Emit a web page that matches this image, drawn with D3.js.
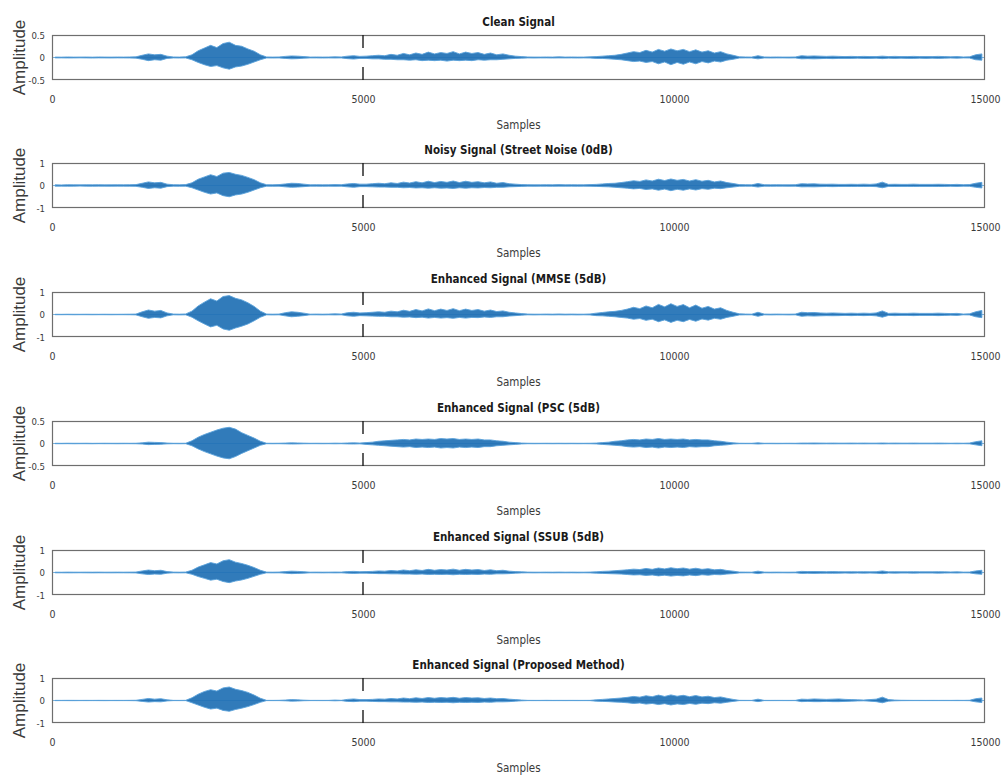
<!DOCTYPE html>
<html><head><meta charset="utf-8">
<script src="https://cdn.jsdelivr.net/npm/d3@7"></script>
<style>body{margin:0;background:#fff}</style>
</head><body><svg id="c" width="1003" height="780"></svg>
<script>
// ---------------- DATA ----------------
const titles = [
  "Clean Signal",
  "Noisy Signal (Street Noise (0dB)",
  "Enhanced Signal (MMSE (5dB)",
  "Enhanced Signal (PSC (5dB)",
  "Enhanced Signal (SSUB (5dB)",
  "Enhanced Signal (Proposed Method)"
];
const xTicks = [0, 5000, 10000, 15000];
const xTickLabels = ["0", "5000", "10000", "15000"];
const markedTicks = [5000];
const yDomains = [[-0.5,0.5],[-1,1],[-1,1],[-0.5,0.5],[-1,1],[-1,1]];
const yTicks = [[-0.5,0,0.5],[-1,0,1],[-1,0,1],[-0.5,0,0.5],[-1,0,1],[-1,0,1]];
const yTickLabels = [["-0.5","0","0.5"],["-1","0","1"],["-1","0","1"],["-0.5","0","0.5"],["-1","0","1"],["-1","0","1"]];
const xLabel = "Samples";
const yLabel = "Amplitude";
const binSize = 100; // samples per envelope value

// envelope (max / min amplitude per 100-sample bin)
const cleanUp = [
 .010,.008,.012,.009,.010,.011,.008,.012,.010,.009,.011,.010,.012,.015,
 .05,.08,.06,.07,.03,
 .012,.010,.015,
 .06,.15,.21,.27,.22,.31,.34,.27,.25,.19,.14,.06,
 .012,.010,.012,
 .025,.035,.030,.020,
 .010,.012,.010,.011,.015,.012,
 .030,.040,.025,
 .03,.04,.05,.04,.07,.05,.09,.06,.10,.07,.12,.08,.11,.09,.13,.08,.12,.09,.11,.07,.10,.06,.08,.05,.03,.02,
 .012,.010,.010,.012,.010,.015,.010,.012,.010,.010,.015,
 .02,.03,.04,.05,.07,.10,.13,.11,.16,.12,.18,.14,.19,.15,.18,.13,.17,.12,.15,.10,.13,.08,.05,
 .015,.012,.010,
 .04,
 .012,.010,.012,.010,.010,.012,
 .04,.03,.035,.03,.025,.03,.025,.02,.025,.02,.025,.02,.02,.03,.02,.025,.02,.02,.025,.02,.02,.02,.025,.02,.015,.02,
 .012,.015,
 .06,.08
];
const cleanLo = [
 -.010,-.009,-.011,-.010,-.008,-.010,-.012,-.009,-.010,-.011,-.009,-.010,-.011,-.014,
 -.04,-.07,-.05,-.06,-.02,
 -.010,-.012,-.010,
 -.05,-.11,-.16,-.20,-.18,-.23,-.26,-.21,-.19,-.15,-.10,-.05,
 -.010,-.012,-.010,
 -.020,-.030,-.025,-.015,
 -.010,-.010,-.012,-.010,-.012,-.010,
 -.025,-.035,-.020,
 -.02,-.03,-.03,-.04,-.04,-.05,-.05,-.06,-.05,-.07,-.06,-.07,-.06,-.08,-.06,-.07,-.06,-.07,-.05,-.06,-.05,-.05,-.04,-.03,-.02,-.015,
 -.010,-.012,-.010,-.010,-.012,-.010,-.011,-.010,-.012,-.010,-.012,
 -.02,-.02,-.03,-.04,-.05,-.07,-.09,-.08,-.11,-.09,-.14,-.10,-.16,-.11,-.15,-.10,-.14,-.09,-.12,-.08,-.10,-.06,-.04,
 -.012,-.010,-.010,
 -.03,
 -.010,-.012,-.010,-.010,-.012,-.010,
 -.03,-.025,-.03,-.025,-.02,-.025,-.02,-.02,-.02,-.015,-.02,-.02,-.015,-.025,-.015,-.02,-.015,-.02,-.02,-.015,-.02,-.015,-.02,-.015,-.012,-.015,
 -.010,-.012,
 -.05,-.06
];
const noisyUp = [
 .03,.025,.035,.03,.028,.032,.03,.035,.028,.03,.033,.03,.035,.04,
 .10,.16,.12,.14,.06,
 .035,.03,.04,
 .12,.28,.38,.48,.40,.55,.58,.50,.45,.36,.26,.12,
 .035,.03,.04,
 .07,.10,.09,.06,
 .03,.035,.03,.032,.04,.035,
 .07,.09,.06,
 .06,.08,.10,.08,.12,.09,.15,.11,.17,.12,.19,.13,.18,.14,.20,.13,.19,.14,.17,.12,.16,.10,.13,.08,.06,.04,
 .035,.03,.03,.035,.03,.04,.03,.035,.03,.03,.04,
 .05,.07,.09,.10,.13,.17,.21,.18,.25,.20,.28,.22,.29,.23,.27,.20,.26,.19,.23,.16,.20,.13,.09,
 .04,.035,.03,
 .09,
 .035,.03,.035,.03,.03,.035,
 .08,.07,.075,.06,.055,.06,.05,.05,.055,.05,.06,.05,.07,.15,.05,.055,.05,.05,.06,.05,.05,.05,.055,.05,.04,.05,
 .035,.04,
 .10,.14
];
const noisyLo = [
 -.03,-.028,-.032,-.03,-.025,-.03,-.033,-.028,-.03,-.032,-.028,-.03,-.032,-.038,
 -.08,-.13,-.10,-.12,-.05,
 -.03,-.035,-.03,
 -.10,-.20,-.30,-.38,-.33,-.45,-.50,-.42,-.38,-.30,-.20,-.10,
 -.03,-.035,-.03,
 -.06,-.08,-.07,-.05,
 -.03,-.03,-.035,-.03,-.035,-.03,
 -.06,-.08,-.05,
 -.05,-.06,-.07,-.07,-.08,-.08,-.10,-.09,-.11,-.10,-.12,-.10,-.12,-.11,-.13,-.10,-.12,-.10,-.11,-.09,-.10,-.08,-.08,-.06,-.05,-.04,
 -.03,-.035,-.03,-.03,-.035,-.03,-.032,-.03,-.035,-.03,-.035,
 -.04,-.05,-.06,-.08,-.10,-.12,-.15,-.13,-.18,-.15,-.21,-.16,-.23,-.17,-.21,-.15,-.20,-.14,-.17,-.12,-.14,-.10,-.07,
 -.035,-.03,-.03,
 -.07,
 -.03,-.035,-.03,-.03,-.035,-.03,
 -.06,-.055,-.06,-.05,-.045,-.05,-.045,-.04,-.045,-.04,-.045,-.04,-.05,-.10,-.04,-.045,-.04,-.04,-.045,-.04,-.04,-.04,-.045,-.04,-.035,-.04,
 -.03,-.035,
 -.08,-.11
];
const mmseUp = [
 .01,.008,.012,.01,.01,.012,.01,.01,.012,.01,.01,.012,.015,.02,
 .12,.20,.15,.18,.07,
 .02,.015,.025,
 .15,.38,.55,.70,.60,.80,.84,.72,.65,.52,.36,.15,
 .02,.015,.02,
 .08,.12,.10,.06,
 .015,.02,.015,.02,.03,.02,
 .08,.10,.07,
 .08,.10,.12,.10,.15,.12,.19,.14,.22,.16,.25,.17,.24,.18,.26,.17,.24,.18,.22,.15,.20,.13,.16,.10,.07,.04,
 .02,.015,.015,.02,.015,.025,.015,.02,.015,.015,.025,
 .06,.09,.12,.14,.18,.24,.32,.26,.38,.30,.45,.34,.48,.36,.44,.30,.42,.28,.36,.24,.30,.18,.10,
 .03,.02,.015,
 .10,
 .02,.015,.02,.015,.015,.02,
 .10,.08,.09,.07,.06,.07,.06,.05,.06,.05,.06,.05,.07,.16,.05,.06,.05,.05,.06,.05,.05,.05,.06,.05,.04,.05,
 .02,.03,
 .12,.18
];
const mmseLo = [
 -.01,-.01,-.008,-.012,-.01,-.01,-.012,-.01,-.01,-.012,-.01,-.01,-.012,-.018,
 -.10,-.17,-.13,-.15,-.06,
 -.015,-.02,-.015,
 -.12,-.28,-.42,-.55,-.48,-.64,-.70,-.60,-.52,-.42,-.28,-.12,
 -.015,-.02,-.015,
 -.06,-.10,-.08,-.05,
 -.015,-.015,-.02,-.015,-.02,-.015,
 -.06,-.08,-.05,
 -.06,-.07,-.08,-.08,-.10,-.10,-.12,-.11,-.14,-.12,-.16,-.13,-.16,-.14,-.17,-.13,-.16,-.13,-.14,-.11,-.13,-.10,-.10,-.07,-.05,-.03,
 -.015,-.02,-.015,-.015,-.02,-.015,-.02,-.015,-.02,-.015,-.02,
 -.05,-.06,-.08,-.10,-.13,-.16,-.21,-.18,-.26,-.21,-.32,-.24,-.35,-.26,-.32,-.22,-.30,-.20,-.25,-.17,-.21,-.13,-.08,
 -.02,-.015,-.015,
 -.08,
 -.015,-.02,-.015,-.015,-.02,-.015,
 -.08,-.06,-.07,-.06,-.05,-.055,-.05,-.04,-.05,-.04,-.05,-.04,-.06,-.12,-.04,-.05,-.04,-.04,-.05,-.04,-.04,-.04,-.05,-.04,-.03,-.04,
 -.015,-.02,
 -.10,-.14
];
const pscUp = [
 .005,.004,.006,.005,.005,.006,.004,.005,.006,.005,.005,.006,.005,.006,
 .015,.03,.025,.02,.01,
 .005,.005,.006,
 .06,.14,.20,.25,.30,.34,.36,.32,.24,.18,.12,.05,
 .006,.005,.006,
 .01,.015,.012,.008,
 .005,.006,.005,.005,.008,.006,
 .012,.015,.01,
 .02,.03,.05,.06,.07,.08,.09,.08,.10,.09,.10,.09,.11,.10,.11,.09,.10,.09,.10,.08,.08,.06,.05,.03,.02,.01,
 .006,.005,.005,.006,.005,.006,.005,.006,.005,.005,.006,
 .01,.02,.03,.05,.06,.08,.09,.08,.10,.09,.11,.09,.10,.09,.10,.08,.09,.08,.08,.06,.05,.03,.015,
 .006,.005,.005,
 .015,
 .005,.006,.005,.005,.006,.005,
 .01,.01,.012,.01,.008,.01,.008,.008,.01,.008,.01,.008,.008,.012,.008,.01,.008,.008,.01,.008,.008,.008,.01,.008,.006,.008,
 .006,.01,
 .04,.06
];
const pscLo = [
 -.005,-.005,-.004,-.006,-.005,-.005,-.006,-.004,-.005,-.005,-.006,-.005,-.005,-.006,
 -.012,-.025,-.02,-.018,-.008,
 -.005,-.006,-.005,
 -.05,-.12,-.18,-.23,-.28,-.32,-.34,-.29,-.22,-.16,-.10,-.04,
 -.005,-.006,-.005,
 -.008,-.012,-.01,-.006,
 -.005,-.005,-.006,-.005,-.007,-.005,
 -.01,-.012,-.008,
 -.02,-.03,-.04,-.05,-.06,-.07,-.08,-.07,-.09,-.08,-.09,-.08,-.10,-.09,-.10,-.08,-.09,-.08,-.09,-.07,-.07,-.05,-.04,-.03,-.02,-.01,
 -.005,-.006,-.005,-.005,-.006,-.005,-.006,-.005,-.006,-.005,-.006,
 -.01,-.02,-.03,-.04,-.05,-.07,-.08,-.07,-.09,-.08,-.10,-.08,-.09,-.08,-.09,-.07,-.08,-.07,-.07,-.05,-.04,-.03,-.012,
 -.005,-.005,-.005,
 -.012,
 -.005,-.005,-.006,-.005,-.005,-.006,
 -.008,-.008,-.01,-.008,-.007,-.008,-.007,-.007,-.008,-.007,-.008,-.007,-.007,-.01,-.007,-.008,-.007,-.007,-.008,-.007,-.007,-.007,-.008,-.007,-.005,-.007,
 -.005,-.008,
 -.03,-.05
];
const ssubUp = [
 .015,.012,.018,.015,.014,.016,.015,.018,.014,.015,.017,.015,.018,.02,
 .07,.11,.08,.10,.04,
 .018,.015,.02,
 .10,.24,.34,.44,.38,.52,.57,.46,.40,.32,.22,.10,
 .018,.015,.02,
 .04,.06,.05,.035,
 .015,.018,.015,.016,.02,.018,
 .04,.05,.035,
 .04,.05,.07,.06,.09,.07,.11,.08,.12,.09,.14,.10,.13,.11,.15,.10,.14,.11,.13,.09,.12,.08,.10,.06,.04,.03,
 .018,.015,.015,.018,.015,.02,.015,.018,.015,.015,.02,
 .03,.05,.06,.08,.10,.12,.15,.13,.18,.14,.20,.16,.21,.17,.20,.15,.19,.14,.17,.12,.14,.09,.06,
 .02,.018,.015,
 .06,
 .018,.015,.018,.015,.015,.018,
 .05,.04,.045,.04,.035,.04,.035,.03,.035,.03,.035,.03,.035,.07,.03,.035,.03,.03,.035,.03,.03,.03,.035,.03,.025,.03,
 .018,.02,
 .07,.10
];
const ssubLo = [
 -.015,-.014,-.016,-.015,-.012,-.015,-.017,-.014,-.015,-.016,-.014,-.015,-.016,-.02,
 -.06,-.09,-.07,-.08,-.03,
 -.015,-.018,-.015,
 -.08,-.18,-.26,-.34,-.30,-.40,-.45,-.38,-.33,-.26,-.17,-.08,
 -.015,-.018,-.015,
 -.03,-.05,-.04,-.03,
 -.015,-.015,-.018,-.015,-.018,-.015,
 -.03,-.04,-.03,
 -.03,-.04,-.05,-.05,-.06,-.06,-.07,-.07,-.08,-.07,-.09,-.08,-.09,-.08,-.10,-.08,-.09,-.08,-.09,-.07,-.08,-.06,-.06,-.05,-.03,-.02,
 -.015,-.018,-.015,-.015,-.018,-.015,-.016,-.015,-.018,-.015,-.018,
 -.03,-.04,-.05,-.06,-.07,-.09,-.11,-.10,-.13,-.11,-.15,-.12,-.16,-.13,-.15,-.11,-.14,-.10,-.12,-.09,-.10,-.07,-.05,
 -.018,-.015,-.015,
 -.05,
 -.015,-.018,-.015,-.015,-.018,-.015,
 -.04,-.035,-.04,-.035,-.03,-.035,-.03,-.025,-.03,-.025,-.03,-.025,-.03,-.05,-.025,-.03,-.025,-.025,-.03,-.025,-.025,-.025,-.03,-.025,-.02,-.025,
 -.015,-.018,
 -.06,-.08
];
const propUp = [
 .006,.005,.007,.006,.005,.006,.005,.007,.006,.005,.006,.005,.007,.01,
 .05,.09,.06,.08,.03,
 .006,.005,.008,
 .12,.28,.40,.48,.42,.56,.60,.50,.44,.36,.24,.10,
 .006,.005,.008,
 .02,.04,.03,.015,
 .005,.006,.005,.006,.02,.008,
 .05,.07,.04,
 .04,.05,.07,.06,.09,.07,.11,.08,.12,.09,.13,.10,.13,.11,.14,.10,.13,.11,.12,.09,.11,.08,.09,.06,.04,.02,
 .006,.005,.005,.008,.005,.006,.005,.006,.005,.005,.006,
 .03,.05,.07,.09,.11,.14,.18,.15,.21,.17,.24,.18,.25,.19,.23,.17,.22,.16,.19,.13,.16,.10,.05,
 .008,.006,.005,
 .06,
 .006,.005,.006,.005,.005,.006,
 .06,.05,.07,.06,.05,.06,.07,.05,.04,.03,.02,.04,.06,.15,.04,.02,.01,.008,.006,.006,.005,.006,.005,.006,.005,.008,
 .006,.01,
 .08,.11
];
const propLo = [
 -.006,-.005,-.006,-.007,-.005,-.006,-.005,-.006,-.007,-.005,-.006,-.005,-.006,-.01,
 -.04,-.07,-.05,-.06,-.02,
 -.005,-.006,-.005,
 -.10,-.20,-.30,-.38,-.34,-.44,-.48,-.40,-.34,-.27,-.18,-.08,
 -.005,-.006,-.005,
 -.015,-.03,-.025,-.01,
 -.005,-.005,-.006,-.005,-.015,-.006,
 -.04,-.05,-.03,
 -.03,-.04,-.05,-.05,-.06,-.06,-.07,-.07,-.08,-.07,-.09,-.08,-.09,-.08,-.10,-.08,-.09,-.08,-.09,-.07,-.08,-.06,-.06,-.05,-.03,-.015,
 -.005,-.006,-.005,-.005,-.006,-.005,-.006,-.005,-.006,-.005,-.006,
 -.03,-.04,-.05,-.07,-.08,-.10,-.13,-.11,-.16,-.13,-.18,-.14,-.20,-.15,-.18,-.13,-.17,-.12,-.14,-.10,-.12,-.08,-.04,
 -.006,-.005,-.005,
 -.05,
 -.005,-.006,-.005,-.005,-.006,-.005,
 -.05,-.04,-.05,-.05,-.04,-.05,-.05,-.04,-.03,-.02,-.015,-.03,-.05,-.10,-.03,-.015,-.008,-.006,-.005,-.005,-.005,-.005,-.005,-.005,-.005,-.006,
 -.005,-.008,
 -.06,-.09
];
const upper = [cleanUp, noisyUp, mmseUp, pscUp, ssubUp, propUp];
const lower = [cleanLo, noisyLo, mmseLo, pscLo, ssubLo, propLo];

// ---------------- LAYOUT ----------------
const left = 52, right = 985;
const tops = [35, 163, 292, 421, 550, 678];
const ph = 45;
const narrow = "'Liberation Sans Narrow','Arial Narrow','DejaVu Sans Condensed',sans-serif";
const regular = "'Liberation Sans',Arial,sans-serif";

const svg = d3.select("#c");
const x = d3.scaleLinear().domain([0, 15000]).range([left, right]);
const defs = svg.append("defs");

titles.forEach((t, p) => {
  const top = tops[p], bot = top + ph;
  const y = d3.scaleLinear().domain(yDomains[p]).range([bot, top]);
  const g = svg.append("g");

  defs.append("clipPath").attr("id", "clip" + p)
    .append("rect").attr("x", left).attr("y", top).attr("width", right - left).attr("height", ph);

  const up = upper[p], lo = lower[p];
  const area = d3.area()
    .x((d, i) => x(i * binSize + binSize / 2))
    .y0((d, i) => y(lo[i]))
    .y1(d => y(d))
    .curve(d3.curveLinear);

  const wg = g.append("g").attr("clip-path", "url(#clip" + p + ")");
  wg.append("line").attr("x1", left).attr("x2", right)
    .attr("y1", y(0)).attr("y2", y(0))
    .attr("stroke", "#7db4de").attr("stroke-width", 1);
  wg.append("path").datum(up).attr("d", area)
    .attr("fill", "#1f70b4").attr("fill-opacity", 0.92)
    .attr("stroke", "#5aa2da").attr("stroke-width", 0.9).attr("stroke-linejoin", "round");

  g.append("rect").attr("x", left + 0.5).attr("y", top + 0.5)
    .attr("width", right - left - 1).attr("height", ph - 1)
    .attr("fill", "none").attr("stroke", "#6e6e6e").attr("stroke-width", 1.2);

  markedTicks.forEach(v => {
    g.append("line").attr("x1", x(v)).attr("x2", x(v)).attr("y1", top).attr("y2", top + 13)
      .attr("stroke", "#1a1a1a").attr("stroke-width", 1.4);
    g.append("line").attr("x1", x(v)).attr("x2", x(v)).attr("y1", bot - 13).attr("y2", bot)
      .attr("stroke", "#1a1a1a").attr("stroke-width", 1.4);
  });

  const xa = g.append("g").attr("transform", `translate(0,${bot})`)
    .call(d3.axisBottom(x).tickValues(xTicks).tickSize(0).tickPadding(16)
      .tickFormat((d, i) => xTickLabels[i]));
  xa.select(".domain").remove();
  xa.selectAll("text").attr("font-family", narrow).attr("font-size", 10.5).attr("fill", "#3a3a3a");

  const ya = g.append("g").attr("transform", `translate(${left},0)`)
    .call(d3.axisLeft(y).tickValues(yTicks[p]).tickSize(0).tickPadding(7)
      .tickFormat((d, i) => yTickLabels[p][i]));
  ya.select(".domain").remove();
  ya.selectAll("text").attr("font-family", narrow).attr("font-size", 9.5).attr("fill", "#3a3a3a");

  g.append("text").attr("x", (left + right) / 2).attr("y", top - 9)
    .attr("text-anchor", "middle").attr("font-family", narrow)
    .attr("font-weight", "bold").attr("font-size", 11.5).attr("fill", "#1a1a1a").text(t);

  g.append("text").attr("x", (left + right) / 2).attr("y", bot + 49)
    .attr("text-anchor", "middle").attr("font-family", narrow)
    .attr("font-size", 11.5).attr("fill", "#3a3a3a").text(xLabel);

  g.append("text").attr("transform", `translate(25,${top + ph / 2}) rotate(-90)`)
    .attr("text-anchor", "middle").attr("font-family", regular)
    .attr("font-size", 17).attr("fill", "#3a3a3a").text(yLabel);
});
</script>
</body></html>
